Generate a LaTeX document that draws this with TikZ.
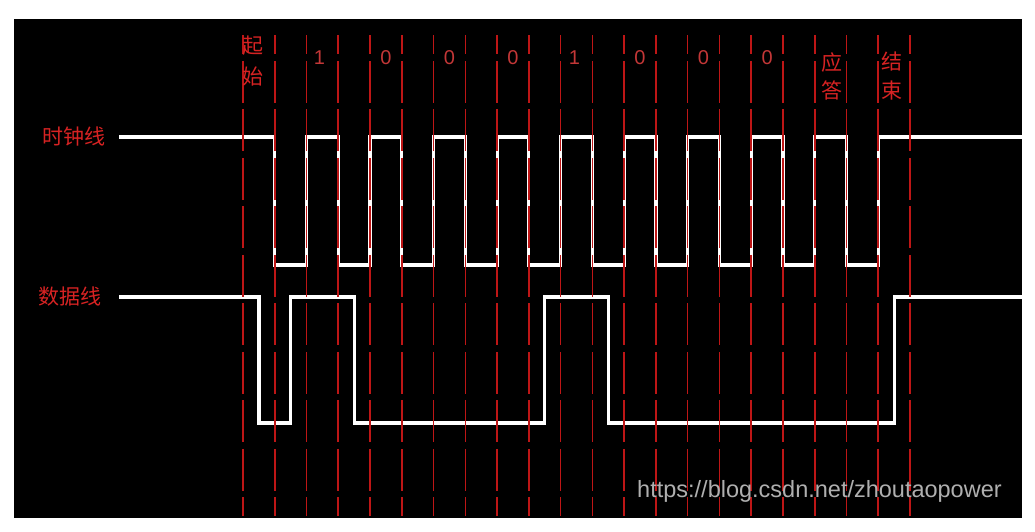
\documentclass[tikz,border=0pt]{standalone}
\usepackage{fontspec}
\newfontfamily\cjk{Noto Sans CJK SC}
\newfontfamily\wmfont{Liberation Sans}
\newfontfamily\digfont{Liberation Sans}
\definecolor{txtred}{RGB}{215,35,35}
\definecolor{digred}{RGB}{195,55,55}
\definecolor{gridred}{RGB}{190,22,22}
\definecolor{wmgray}{RGB}{175,175,175}
\tikzset{
  sig/.style={white, line width=3.2pt, line join=miter},
  gridline/.style={gridred, line width=1.6pt, dash pattern=on 42pt off 6.5pt, dash phase=22.75pt},
  cjklabel/.style={txtred, inner sep=0pt, font=\cjk\fontsize{21}{26}\selectfont},
  digit/.style={digred, inner sep=0pt, font=\digfont\fontsize{20}{24}\selectfont},
}
\begin{document}
\begin{tikzpicture}[x=1pt,y=-1pt]
\useasboundingbox (0,0) rectangle (1035,531);
\fill[white] (0,0) rectangle (1035,531);
\fill[black] (14,19) rectangle (1022,518);

% clock line
\draw[sig] (119,137) -- ({243+31.762},137)
  \foreach \k in {0,...,9} {
    -- ({243+31.762*(2*\k+1)},265) -- ({243+31.762*(2*\k+2)},265)
    -- ({243+31.762*(2*\k+2)},137) -- ({243+31.762*(2*\k+3)},137)
  } -- (1022,137);

% data line
\draw[sig] (119,297) -- (259,297) -- (259,423) -- (290.6,423) -- (290.6,297)
  -- (354.1,297) -- (354.1,423) -- (544.7,423) -- (544.7,297)
  -- (608.3,297) -- (608.3,423) -- (894.1,423) -- (894.1,297) -- (1022,297);

% dashed grid lines
\foreach \i in {0,...,21}
  \draw[gridline] ({243+31.762*\i},35) -- ({243+31.762*\i},516);

% signal names
\node[cjklabel] (clk) at (74,137) {时钟线};
\node[cjklabel] (dat) at (70,297) {数据线};

% top labels
\node[cjklabel] (q1) at (253,46) {起};
\node[cjklabel] (q2) at (253,77) {始};
\node[digit] (b1) at ({243+31.762*2.5-3},58) {1};
\node[digit] (b2) at ({243+31.762*4.5},58) {0};
\node[digit] (b3) at ({243+31.762*6.5},58) {0};
\node[digit] (b4) at ({243+31.762*8.5},58) {0};
\node[digit] (b5) at ({243+31.762*10.5-2},58) {1};
\node[digit] (b6) at ({243+31.762*12.5},58) {0};
\node[digit] (b7) at ({243+31.762*14.5},58) {0};
\node[digit] (b8) at ({243+31.762*16.5},58) {0};
\node[cjklabel] (a1) at (832,63) {应};
\node[cjklabel] (a2) at (832,90) {答};
\node[cjklabel] (e1) at (892,61) {结};
\node[cjklabel] (e2) at (892,91) {束};

% watermark
\node[wmgray, anchor=base west, inner sep=0pt, font=\wmfont\fontsize{23.5}{28}\selectfont] (wm) at (637,497) {https://blog.csdn.net/zhoutaopower};
\end{tikzpicture}
\end{document}
